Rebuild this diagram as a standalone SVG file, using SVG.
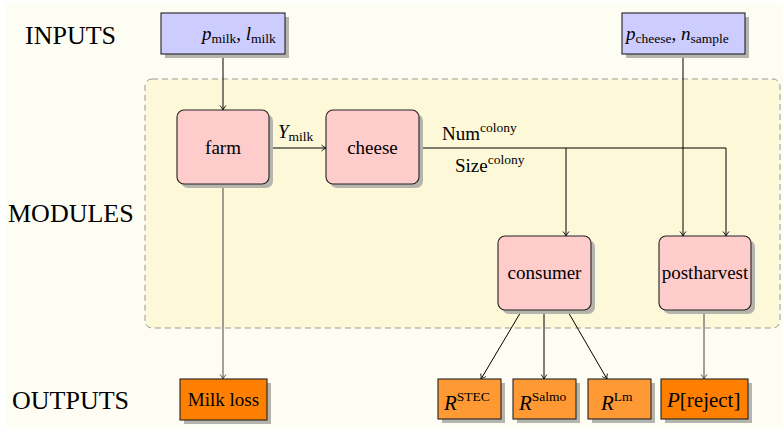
<svg xmlns="http://www.w3.org/2000/svg" width="783" height="428" viewBox="0 0 783 428">
<defs>
<marker id="arr" markerWidth="10" markerHeight="10" refX="6" refY="5" orient="auto" markerUnits="userSpaceOnUse">
<path d="M1.5,2 Q4,4.2 6,5 Q4,5.8 1.5,8" fill="none" stroke="#000" stroke-width="0.9"/>
</marker>
<marker id="arrg" markerWidth="10" markerHeight="10" refX="6" refY="5" orient="auto" markerUnits="userSpaceOnUse">
<path d="M1.5,2 Q4,4.2 6,5 Q4,5.8 1.5,8" fill="none" stroke="#444" stroke-width="0.9"/>
</marker>
</defs>
<style>
text{font-family:"Liberation Serif","DejaVu Serif",serif;fill:#000}
.lab{font-size:26px}
.nt{font-size:19px;text-anchor:middle}
.it{font-style:italic}
.sub{font-size:13.5px;font-style:normal}
.shadow{fill:#b5b5ae}
.inp{fill:#ccccff;stroke:#222;stroke-width:1.1}
.mod{fill:#ffcccc;stroke:#222;stroke-width:1.1}
.outa{fill:#ff8000;stroke:#222;stroke-width:1.1}
.outb{fill:#ff9933;stroke:#222;stroke-width:1.1}
.ln{fill:none;stroke:#000;stroke-width:1}
.lng{fill:none;stroke:#444;stroke-width:1}
</style>
<rect x="6" y="3" width="777" height="425" fill="#fefdf4"/>
<rect x="145" y="79" width="635" height="249" rx="7" fill="#fdf8d8" stroke="#999" stroke-width="1" stroke-dasharray="6,4"/>

<text class="lab" x="25" y="44">INPUTS</text>
<text class="lab" x="8" y="222">MODULES</text>
<text class="lab" x="12" y="409">OUTPUTS</text>

<g id="connectors">
<path class="ln" d="M223,54 V110" marker-end="url(#arr)"/>
<path class="ln" d="M269,148 H326" marker-end="url(#arr)"/>
<path class="ln" d="M419,148 H726 V236" marker-end="url(#arr)"/>
<path class="ln" d="M566,148 V236" marker-end="url(#arr)"/>
<path class="ln" d="M683,54 V236" marker-end="url(#arr)"/>
<path class="lng" d="M223,184 V379" marker-end="url(#arrg)"/>
<path class="ln" d="M522,310 L481,379" marker-end="url(#arr)"/>
<path class="ln" d="M544,310 V379" marker-end="url(#arr)"/>
<path class="ln" d="M567,310 L607,379" marker-end="url(#arr)"/>
<path class="lng" d="M704,310 V379" marker-end="url(#arrg)"/>
<text x="278" y="138"><tspan class="it" font-size="19">Y</tspan><tspan class="sub" dy="3">milk</tspan></text>
<text x="442" y="140"><tspan font-size="19">Num</tspan><tspan class="sub" dy="-8">colony</tspan></text>
<text x="455" y="172"><tspan font-size="19">Size</tspan><tspan class="sub" dy="-8">colony</tspan></text>
</g>

<g id="in1">
<rect class="shadow" x="165" y="17" width="124" height="41"/>
<rect class="inp" x="161" y="13" width="124" height="41"/>
<text x="202" y="40"><tspan class="it" font-size="19">p</tspan><tspan class="sub" dy="3">milk</tspan><tspan font-size="19" dy="-3">, </tspan><tspan class="it" font-size="19">l</tspan><tspan class="sub" dy="3">milk</tspan></text>
</g>
<g id="in2">
<rect class="shadow" x="626" y="17" width="123" height="41"/>
<rect class="inp" x="622" y="13" width="123" height="41"/>
<text x="626" y="40"><tspan class="it" font-size="19">p</tspan><tspan class="sub" dy="3">cheese</tspan><tspan font-size="19" dy="-3">, </tspan><tspan class="it" font-size="19">n</tspan><tspan class="sub" dy="3">sample</tspan></text>
</g>

<g id="farm">
<rect class="shadow" x="181" y="114" width="92" height="74" rx="7"/>
<rect class="mod" x="177" y="110" width="92" height="74" rx="7"/>
<text class="nt" x="223" y="154">farm</text>
</g>
<g id="cheese">
<rect class="shadow" x="330" y="114" width="93" height="74" rx="7"/>
<rect class="mod" x="326" y="110" width="93" height="74" rx="7"/>
<text class="nt" x="372.5" y="154">cheese</text>
</g>
<g id="consumer">
<rect class="shadow" x="502" y="240" width="93" height="74" rx="7"/>
<rect class="mod" x="498" y="236" width="93" height="74" rx="7"/>
<text class="nt" x="544.5" y="279">consumer</text>
</g>
<g id="postharvest">
<rect class="shadow" x="663" y="240" width="92" height="74" rx="7"/>
<rect class="mod" x="659" y="236" width="92" height="74" rx="7"/>
<text class="nt" x="705" y="279">postharvest</text>
</g>

<g id="milkloss">
<rect class="shadow" x="184" y="383" width="87" height="41"/>
<rect class="outa" x="180" y="379" width="87" height="41"/>
<text class="nt" x="223.5" y="406" font-size="18">Milk loss</text>
</g>
<g id="rstec">
<rect class="shadow" x="442" y="383" width="63" height="40"/>
<rect class="outb" x="438" y="379" width="63" height="40"/>
<text x="444" y="410"><tspan class="it" font-size="21">R</tspan><tspan class="sub" dy="-9" font-size="14">STEC</tspan></text>
</g>
<g id="rsalmo">
<rect class="shadow" x="517" y="383" width="63" height="40"/>
<rect class="outb" x="513" y="379" width="63" height="40"/>
<text x="519" y="410"><tspan class="it" font-size="21">R</tspan><tspan class="sub" dy="-9" font-size="14">Salmo</tspan></text>
</g>
<g id="rlm">
<rect class="shadow" x="592" y="383" width="63" height="40"/>
<rect class="outb" x="588" y="379" width="63" height="40"/>
<text x="601" y="410"><tspan class="it" font-size="21">R</tspan><tspan class="sub" dy="-9" font-size="14">Lm</tspan></text>
</g>
<g id="preject">
<rect class="shadow" x="665" y="383" width="87" height="40"/>
<rect class="outa" x="661" y="379" width="87" height="40"/>
<text x="667" y="407"><tspan class="it" font-size="21">P</tspan><tspan font-size="21">[reject]</tspan></text>
</g>
</svg>
